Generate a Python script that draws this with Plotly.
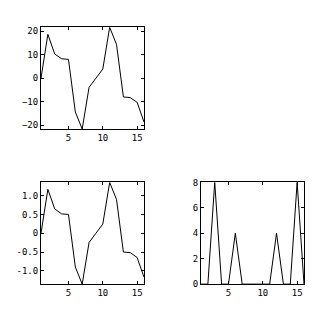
import plotly.graph_objects as go
from plotly.subplots import make_subplots

x = list(range(1, 17))
signal = [0, 18.7, 10.3, 8.3, 8.0, -14.4, -21.7, -3.9, 0, 3.9, 21.7, 14.4, -8.0, -8.3, -10.3, -18.7]
normalized = [0, 1.169, 0.646, 0.516, 0.5, -0.898, -1.354, -0.245, 0, 0.245, 1.354, 0.898, -0.5, -0.516, -0.646, -1.169]
spectrum = [0, 0, 8, 0, 0, 4, 0, 0, 0, 0, 0, 4, 0, 0, 8, 0]

xticks = [5, 10, 15]
y1_ticks = [-20, -10, 0, 10, 20]
y2_ticks = [-1.0, -0.5, 0, 0.5, 1.0]
y2_text = ["-1.0", "-0.5", "0", "0.5", "1.0"]
y3_ticks = [0, 2, 4, 6, 8]

W = 325.0
fig = go.Figure()
line = dict(color="black", width=1)
fig.add_trace(go.Scatter(x=x, y=signal, mode="lines", line=line, xaxis="x", yaxis="y"))
fig.add_trace(go.Scatter(x=x, y=normalized, mode="lines", line=line, xaxis="x2", yaxis="y2"))
fig.add_trace(go.Scatter(x=x, y=spectrum, mode="lines", line=line, xaxis="x3", yaxis="y3"))

def px_x(a, b):
    return [a / W, b / W]

def px_y(top, bottom):
    return [1 - bottom / W, 1 - top / W]

common = dict(showline=True, linecolor="black", linewidth=1, mirror="ticks",
              ticks="inside", ticklen=3, tickcolor="black", showgrid=False,
              zeroline=False, tickfont=dict(family="DejaVu Sans Mono", size=9, color="black"))

fig.update_layout(
    width=325, height=325, autosize=False, showlegend=False,
    margin=dict(l=0, r=0, t=0, b=0),
    paper_bgcolor="white", plot_bgcolor="white",
    xaxis=dict(domain=px_x(41, 144), range=[1, 16], tickvals=xticks, anchor="y", **common),
    yaxis=dict(domain=px_y(23, 128), range=[-21.7, 21.7], tickvals=y1_ticks, anchor="x", **common),
    xaxis2=dict(domain=px_x(41, 144), range=[1, 16], tickvals=xticks, anchor="y2", **common),
    yaxis2=dict(domain=px_y(183, 288), range=[-1.354, 1.354], tickvals=y2_ticks, ticktext=y2_text, anchor="x2", **common),
    xaxis3=dict(domain=px_x(201, 304), range=[1, 16], tickvals=xticks, anchor="y3", **common),
    yaxis3=dict(domain=px_y(183, 288), range=[0, 8], tickvals=y3_ticks, anchor="x3", **common),
)

fig.write_html("out.html")
